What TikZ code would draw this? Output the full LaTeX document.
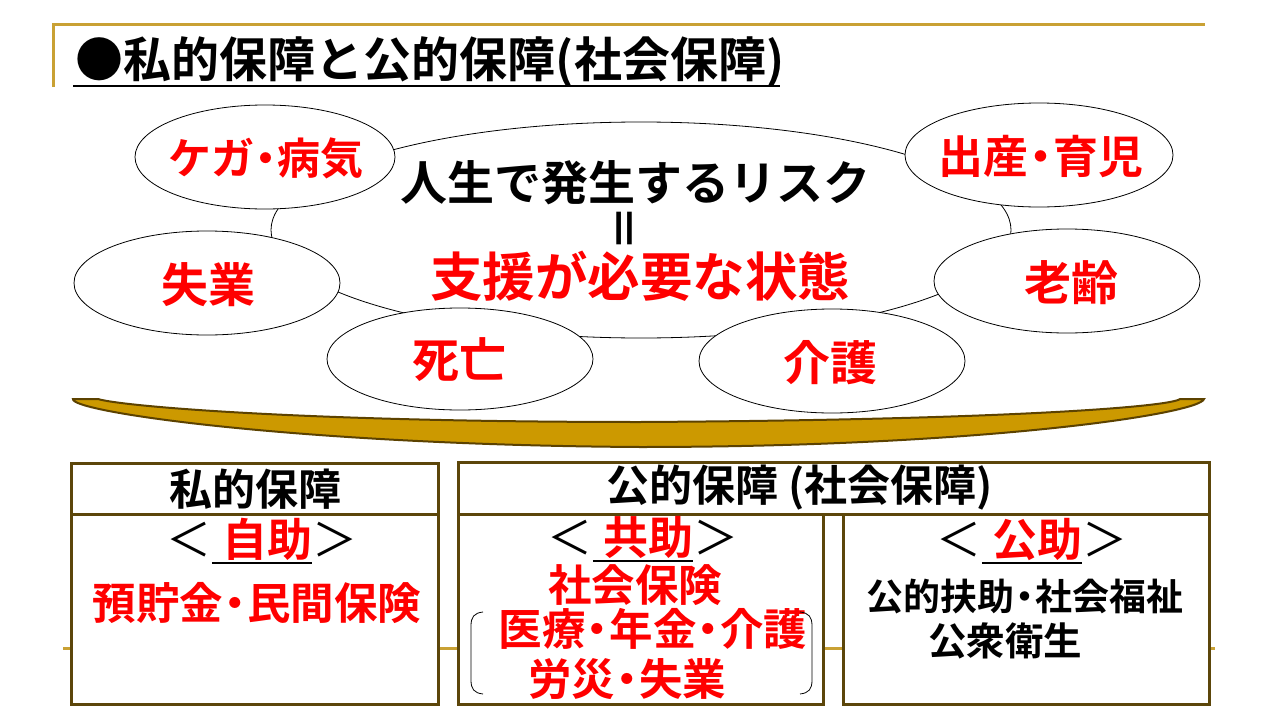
\documentclass[tikz,border=0pt]{standalone}
\usepackage{fontspec}
\setmainfont{Noto Sans CJK JP}[BoldFont={Noto Sans CJK JP Bold}]
\usetikzlibrary{shapes.geometric}
\definecolor{gold}{RGB}{201,161,52}
\definecolor{plate}{RGB}{204,153,0}
\definecolor{plateedge}{RGB}{92,66,0}
\definecolor{boxedge}{RGB}{92,70,10}
\definecolor{jred}{RGB}{255,0,0}
\newcommand\nd{\makebox[0.55em][c]{・}}
\newcommand\thul[1]{\setbox0=\hbox{#1}\rlap{\rule[-7pt]{\wd0}{2pt}}\box0}
\tikzset{
  bub/.style={ellipse, draw=black, line width=0.8pt, fill=white, inner sep=0pt},
  rtxt/.style={text=jred, font=\bfseries, inner sep=0pt},
  btxt/.style={text=black, font=\bfseries, inner sep=0pt},
  boxst/.style={draw=boxedge, line width=3pt, fill=white, inner sep=0pt, anchor=north west},
  goldline/.style={draw=gold, line width=3pt},
}
\begin{document}
\begin{tikzpicture}[x=1pt,y=-1pt]
\useasboundingbox (0,0) rectangle (1280,720);
% decorative gold lines
\draw[goldline] (53,87) -- (53,24) -- (1205,24);
\draw[goldline] (63,648) -- (1215,648);
% title
\node[btxt, font=\fontsize{48}{52}\selectfont\bfseries] (title) at (430,62) {●私的保障と公的保障(社会保障)};
\draw[line width=2.5pt] (73,86) -- (780,86);
% big ellipse
\node[bub, minimum width=740pt, minimum height=216pt] (risk) at (641,230) {};
\node[btxt, font=\fontsize{47}{51}\selectfont\bfseries] (jinsei) at (635,183) {人生で発生するリスク};
\node[btxt, rotate=90, font=\fontsize{46}{50}\selectfont\bfseries] (eq) at (630,228) {＝};
\node[rtxt, font=\fontsize{52.5}{56}\selectfont\bfseries] (shien) at (640,276) {支援が必要な状態};
% small ellipses
\node[bub, minimum width=260pt, minimum height=104pt] (kega) at (265,157) {};
\node[rtxt, font=\fontsize{43}{47}\selectfont\bfseries] at (266,158) {ケガ\nd 病気};
\node[bub, minimum width=268pt, minimum height=104pt] (shussan) at (1039,155) {};
\node[rtxt, font=\fontsize{45}{49}\selectfont\bfseries] at (1041,157) {出産\nd 育児};
\node[bub, minimum width=266pt, minimum height=104pt] (shitsu) at (207,283) {};
\node[rtxt, font=\fontsize{47}{51}\selectfont\bfseries] at (208,285) {失業};
\node[bub, minimum width=266pt, minimum height=104pt] (rourei) at (1067,281) {};
\node[rtxt, font=\fontsize{47}{51}\selectfont\bfseries] at (1071,283) {老齢};
\node[bub, minimum width=266pt, minimum height=102pt] (shibou) at (460,359) {};
\node[rtxt, font=\fontsize{47}{51}\selectfont\bfseries] at (459,360) {死亡};
\node[bub, minimum width=266pt, minimum height=104pt] (kaigo) at (832,361) {};
\node[rtxt, font=\fontsize{47}{51}\selectfont\bfseries] at (830,363) {介護};
% plate
\draw[fill=plate, draw=plateedge, line width=2pt]
  (73,399) .. controls (70,412) and (300,445) .. (640,447)
  .. controls (980,447) and (1200,414) .. (1204,399)
  -- (1180,399) .. controls (1170,407) and (1000,420) .. (640,422)
  .. controls (300,422) and (120,406) .. (98,399) -- cycle;
% boxes
\node[boxst, minimum width=367pt, minimum height=51pt, font=\fontsize{43}{47}\selectfont\bfseries] (privh) at (70,462) {私的保障};
\node[boxst, minimum width=751pt, minimum height=52pt] (pubh) at (457,461) {};
\node[btxt, font=\fontsize{43}{47}\selectfont\bfseries] (pubt) at (800,488) {公的保障 (社会保障)};
\node[boxst, minimum width=367pt, minimum height=190pt] (jijo) at (70,513) {};
\node[boxst, minimum width=365pt, minimum height=190pt] (kyojo) at (457,513) {};
\node[boxst, minimum width=366pt, minimum height=190pt] (kojo) at (842,513) {};
% box contents
\node[btxt, font=\fontsize{45}{49}\selectfont] (jh) at (262,541) {＜\thul{\ \textcolor{jred}{\bfseries 自助}}＞};
\node[rtxt, font=\fontsize{43.5}{48}\selectfont\bfseries] (yocho) at (257,603) {預貯金\nd 民間保険};
\node[btxt, font=\fontsize{45}{49}\selectfont] (kh) at (643,539) {＜\thul{\ \textcolor{jred}{\bfseries 共助}}＞};
\node[rtxt, font=\fontsize{43.5}{48}\selectfont\bfseries] (shaho) at (635,585) {社会保険};
\node[rtxt, font=\fontsize{43.5}{48}\selectfont\bfseries] (iryo) at (653,629) {医療\nd 年金\nd 介護};
\node[rtxt, font=\fontsize{43.5}{48}\selectfont\bfseries] (rousai) at (627,679) {労災\nd 失業};
\node[btxt, font=\fontsize{45}{49}\selectfont] (ph) at (1032,541) {＜\thul{\ \textcolor{jred}{\bfseries 公助}}＞};
\node[btxt, font=\fontsize{37}{42}\selectfont\bfseries] (fujo) at (1025,597) {公的扶助\nd 社会福祉};
\node[btxt, font=\fontsize{38.5}{43}\selectfont\bfseries] (eisei) at (1005,641) {公衆衛生};
% bracket
\draw[line width=0.8pt] (483,612) .. controls (474,613) and (471,617) .. (471,626) -- (471,680) .. controls (471,689) and (474,693) .. (483,694);
\draw[line width=0.8pt] (800,612) .. controls (809,613) and (812,617) .. (812,626) -- (812,680) .. controls (812,689) and (809,693) .. (800,694);
\end{tikzpicture}
\end{document}
